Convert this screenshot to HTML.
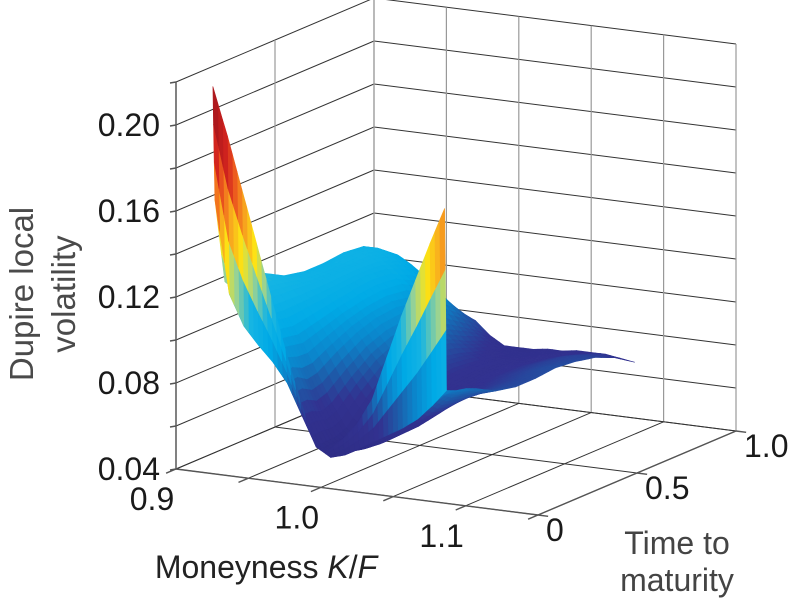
<!DOCTYPE html>
<html><head><meta charset="utf-8"><style>
html,body{margin:0;padding:0;background:#fff;}
svg{display:block;font-family:"Liberation Sans",sans-serif;}
</style></head><body>
<svg id="chart" width="795" height="600" viewBox="0 0 795 600" xmlns="http://www.w3.org/2000/svg">
<g id="grid"></g>
<g id="surface"></g>
<g id="axes"></g>
<g id="labels" font-size="32" fill="#1a1a1a"></g>
<text x="266" y="578" font-size="32" text-anchor="middle" fill="#222">Moneyness <tspan font-style="italic">K</tspan>/<tspan font-style="italic">F</tspan></text>
<text x="677" y="554" font-size="32" text-anchor="middle" fill="#444">Time to</text>
<text x="677" y="591" font-size="32" text-anchor="middle" fill="#444">maturity</text>
<text transform="translate(33,294) rotate(-90)" font-size="33" text-anchor="middle" fill="#4a4a4a">Dupire local</text>
<text transform="translate(75,294) rotate(-90)" font-size="33" text-anchor="middle" fill="#4a4a4a">volatility</text>
</svg>
<script>
const kGrid = [0.92,0.93,0.94,0.95,0.96,0.97,0.98,0.99,1.00,1.01,1.02,1.03,1.04,1.05,1.06,1.07,1.08];
const tGrid = [0.04,0.05,0.1,0.15,0.2,0.3,0.4,0.5,0.6,0.7,0.8,0.9,1.0];
const volT004 = [.218,.196,.172,.148,.124,.100,.078,.060,.056,.062,.070,.082,.102,.122,.140,.158,.175];
const volT005 = [.165,.122,.108,.100,.093,.084,.070,.056,.052,.054,.058,.062,.066,.070,.075,.082,.090];
const volT010 = [.125,.120,.115,.108,.098,.085,.070,.057,.053,.054,.058,.063,.068,.074,.080,.085,.088];
const volT015 = [.124,.121,.116,.108,.097,.082,.068,.057,.053,.053,.056,.060,.065,.070,.076,.082,.087];
const volT020 = [.124,.121,.116,.107,.096,.083,.070,.059,.054,.054,.056,.060,.064,.069,.075,.081,.085];
const volT030 = [.121,.119,.115,.108,.099,.089,.078,.069,.064,.062,.063,.065,.067,.071,.075,.078,.080];
const volT040 = [.116,.116,.114,.109,.102,.094,.085,.077,.071,.068,.067,.068,.070,.072,.075,.077,.078];
const volT050 = [.114,.115,.114,.110,.104,.097,.089,.082,.076,.072,.070,.070,.071,.073,.075,.077,.078];
const volT060 = [.114,.115,.114,.111,.105,.098,.090,.083,.077,.073,.071,.071,.072,.074,.076,.078,.079];
const volT070 = [.115,.116,.114,.110,.104,.096,.088,.081,.075,.072,.071,.071,.072,.074,.076,.077,.078];
const volT080 = [.114,.114,.111,.106,.099,.091,.083,.076,.072,.070,.070,.070,.071,.073,.075,.076,.076];
const volT090 = [.108,.107,.103,.098,.091,.084,.077,.072,.069,.068,.068,.069,.070,.071,.072,.073,.072];
const volT100 = [.100,.092,.087,.083,.079,.076,.070,.066,.066,.066,.067,.067,.068,.068,.068,.067,.066];
const volRows = [volT004,volT005,volT010,volT015,volT020,volT030,volT040,volT050,volT060,volT070,volT080,volT090,volT100];
const zTickValues = [0.04,0.08,0.12,0.16,0.20];
const zTickLabels = ["0.04","0.08","0.12","0.16","0.20"];
const kTickValues = [0.9,1.0,1.1];
const kTickLabels = ["0.9","1.0","1.1"];
const tTickValues = [0,0.5,1];
const tTickLabels = ["0","0.5","1.0"];

const NS="http://www.w3.org/2000/svg";
const K0=0.9,K1=1.15,Z0=0.04,Z1=0.22;
function P(k,t,z){return [176+1448*(k-K0)+198*t, 469+184*(k-K0)-84*t-2150*(z-Z0)];}
function mk(tag,attrs,parent){const e=document.createElementNS(NS,tag);for(const a in attrs)e.setAttribute(a,attrs[a]);parent.appendChild(e);return e;}
function line(a,b,col,w,parent,name){const e=mk('line',{x1:a[0],y1:a[1],x2:b[0],y2:b[1],stroke:col,'stroke-width':w},parent);


return e;}

const grid=document.getElementById('grid');
for(let z=Z0;z<=Z1+1e-9;z+=0.02){
  line(P(K0,0,z),P(K0,1,z),'#333',1,grid,'left-wall-gridline');
  line(P(K0,1,z),P(K1,1,z),'#333',1,grid,'back-wall-gridline');
}
[0,0.5,1].forEach(t=>line(P(K0,t,Z0),P(K0,t,Z1),'#999',1.2,grid,'left-wall-vertical'));
for(let k=K0;k<=K1+1e-9;k+=0.05){
  line(P(k,1,Z0),P(k,1,Z1),'#999',1.2,grid,'back-wall-vertical');
  line(P(k,0,Z0),P(k,1,Z0),'#333',1,grid,'floor-gridline');
}
[0,0.5,1].forEach(t=>line(P(K0,t,Z0),P(K1,t,Z0),'#333',1,grid,'floor-gridline'));

const cStops=[[0.04,[44,42,126]],[0.072,[50,50,144]],[0.082,[30,90,168]],[0.092,[11,134,204]],[0.105,[0,170,230]],[0.12,[20,180,228]],[0.135,[150,210,150]],[0.15,[253,230,20]],[0.165,[248,170,30]],[0.18,[240,100,30]],[0.195,[210,35,30]],[0.22,[160,20,28]]];
function cmap(z){
  if(z<=cStops[0][0])return 'rgb('+cStops[0][1]+')';
  for(let i=1;i<cStops.length;i++){if(z<=cStops[i][0]){const a=cStops[i-1],b=cStops[i];const f=(z-a[0])/(b[0]-a[0]);
    return 'rgb('+a[1].map((v,j)=>Math.round(v+(b[1][j]-v)*f)).join(',')+')';}}
  return 'rgb('+cStops[cStops.length-1][1]+')';
}
const SUB=3;
const surf=document.getElementById('surface');
const quads=[];
for(let i=0;i<tGrid.length-1;i++)for(let j=0;j<kGrid.length-1;j++){
  const ka=kGrid[j],kb=kGrid[j+1],ta=tGrid[i],tb=tGrid[i+1];
  const z00=volRows[i][j],z10=volRows[i][j+1],z01=volRows[i+1][j],z11=volRows[i+1][j+1];
  const S=(u,v)=>{const z=z00*(1-u)*(1-v)+z10*u*(1-v)+z01*(1-u)*v+z11*u*v;return {k:ka+(kb-ka)*u,t:ta+(tb-ta)*v,z};};
  for(let a=0;a<SUB;a++)for(let b=0;b<SUB;b++){
    const c=[S(a/SUB,b/SUB),S((a+1)/SUB,b/SUB),S((a+1)/SUB,(b+1)/SUB),S(a/SUB,(b+1)/SUB)];
    const pts=c.map(q=>P(q.k,q.t,q.z));
    const zm=c.reduce((s,q)=>s+q.z,0)/4;
    const zx=Math.max(...c.map(q=>q.z));
    const km=c.reduce((s,q)=>s+q.k,0)/4, tm=c.reduce((s,q)=>s+q.t,0)/4;
    const depth=84*tm-184*(km-K0)-300*(zm-Z0);
    quads.push({pts,zc:0.6*zx+0.4*zm,depth});
  }
}
quads.sort((a,b)=>b.depth-a.depth);
quads.forEach(q=>{
  const col=cmap(q.zc);
  const e=mk('polygon',{points:q.pts.map(p=>p[0].toFixed(1)+','+p[1].toFixed(1)).join(' '),fill:col,stroke:col,'stroke-width':0.6,'stroke-linejoin':'round'},surf);
  
  
});

const axes=document.getElementById('axes');
line(P(K0,0,Z0),P(K0,0,Z1),'#555',1.4,axes,'z-axis-line');
line(P(K0,0,Z0),P(K1,0,Z0),'#555',1.4,axes,'x-axis-line');
line(P(K1,0,Z0),P(K1,1,Z0),'#555',1.4,axes,'t-axis-line');
for(let z=Z0;z<=Z1+1e-9;z+=0.02){const p=P(K0,0,z);line([p[0]-6,p[1]+1],p,'#555',1.4,axes,'z-tick');}
for(let k=K0;k<=K1+1e-9;k+=0.05){line(P(k,0,Z0),P(k,-0.05,Z0),'#555',1.4,axes,'x-tick');}
[0,0.5,1].forEach(t=>line(P(K1,t,Z0),P(K1+0.007,t,Z0),'#555',1.4,axes,'t-tick'));

const labels=document.getElementById('labels');
zTickValues.forEach((v,i)=>{const p=P(K0,0,v);const e=mk('text',{x:160,y:p[1]+11,'text-anchor':'end'},labels);e.textContent=zTickLabels[i];

});
kTickValues.forEach((v,i)=>{const p=P(v,0,Z0);const e=mk('text',{x:p[0]-24,y:p[1]+41,'text-anchor':'middle'},labels);e.textContent=kTickLabels[i];

});
tTickValues.forEach((v,i)=>{const p=P(K1,v,Z0);const e=mk('text',{x:p[0]+8,y:p[1]+26,'text-anchor':'start'},labels);e.textContent=tTickLabels[i];

});
</script>
</body></html>
